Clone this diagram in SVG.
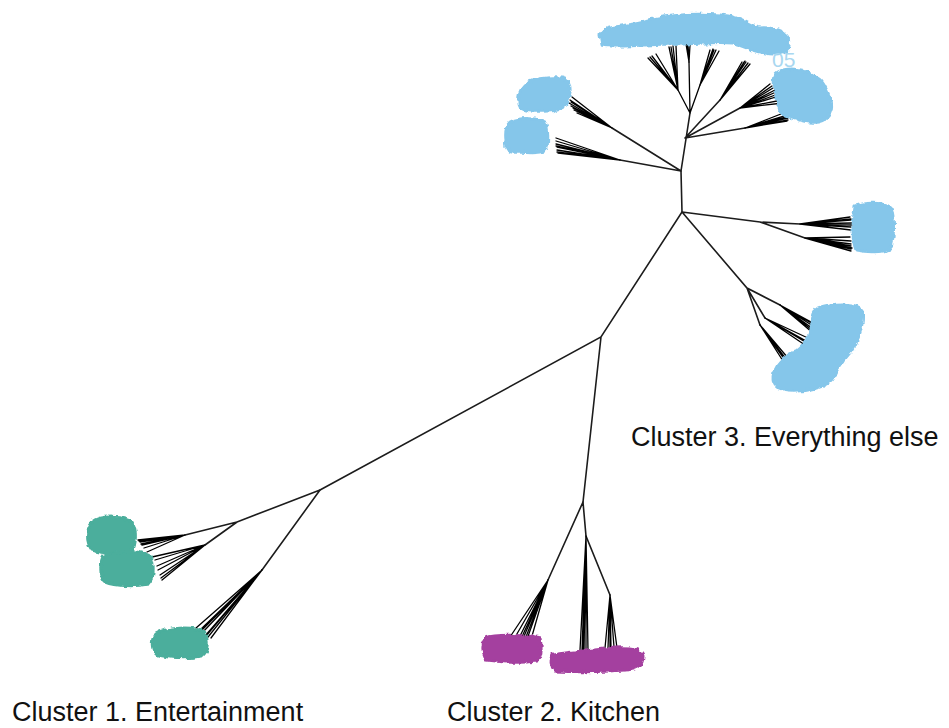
<svg xmlns="http://www.w3.org/2000/svg" width="949" height="728" viewBox="0 0 949 728">
<defs>
<filter id="rough" x="-10%" y="-20%" width="120%" height="140%">
<feTurbulence type="fractalNoise" baseFrequency="0.18" numOctaves="2" seed="3" result="n"/>
<feDisplacementMap in="SourceGraphic" in2="n" scale="5" xChannelSelector="R" yChannelSelector="G"/>
</filter>
</defs>
<style>
.e{stroke:#1c1c1c;stroke-width:1.6;fill:none;stroke-linecap:round}
.f{stroke:#000;stroke-width:1.3;fill:none;stroke-linecap:round}
.b{fill:#85C6EA;stroke:#85C6EA;stroke-width:3;stroke-linejoin:round;filter:url(#rough)}
.t{fill:#4BAE9C;stroke:#4BAE9C;stroke-width:3;stroke-linejoin:round;filter:url(#rough)}
.m{fill:#A4409F;stroke:#A4409F;stroke-width:3;stroke-linejoin:round;filter:url(#rough)}
.lbl{font-family:"Liberation Sans",Arial,sans-serif;font-size:27px;fill:#111}
</style>
<rect width="949" height="728" fill="#fff"/>
<g id="connectors">
<path class="e" d="M681,171L682,212L601,337L320,490M601,337L583,502"/>
<path class="e" d="M681,171L690,113M681,171L612,128M681,171L620,160M685,138L720,100M685,138L740,108M685,138L745,128"/>
<path class="e" d="M682,212L760,222L800,224M760,222L805,238M682,212L747,288L780,305M747,288L765,318M747,288L760,325"/>
<path class="e" d="M320,490L237,522L185,535M237,522L205,545M320,490L262,570"/>
<path class="e" d="M583,502L548,580M583,502L586,536L610,595"/>
<path class="f" d="M690,113L678,90M690,113L689,62M690,113L700,85"/>
<path class="f" d="M612,128L572,97M612,128L570,100M612,128L569,103M612,128L571,106M612,128L574,110M612,128L577,113M612,128L573,108M612,128L571,102"/>
<path class="f" d="M620,160L556,138M620,160L556,141M620,160L556,144M620,160L557,147M620,160L557,150M620,160L558,153M620,160L557,152M620,160L556,146"/>
<path class="f" d="M678,90L648,58M678,90L650,57M678,90L656,54M678,90L669,47M678,90L673,46M678,90L676,46M678,90L652,56M678,90L671,47"/>
<path class="f" d="M689,62L686,44M689,62L688,44M689,62L690,45M689,62L687,44"/>
<path class="f" d="M700,85L710,50M700,85L713,49M700,85L716,50M700,85L719,51M700,85L714,50"/>
<path class="f" d="M720,100L742,62M720,100L745,61M720,100L748,63M720,100L750,64M720,100L746,62M720,100L744,62"/>
<path class="f" d="M740,108L770,84M740,108L773,88M740,108L776,92M740,108L779,96M740,108L782,100M740,108L783,103M740,108L775,90M740,108L778,94M740,108L772,86"/>
<path class="f" d="M745,128L786,112M745,128L787,115M745,128L788,118M745,128L787,121M745,128L786,117M745,128L788,120"/>
<path class="f" d="M800,224L850,217M800,224L851,220M800,224L852,223M800,224L851,227M800,224L851,230M800,224L852,225M800,224L851,219"/>
<path class="f" d="M805,238L850,237M805,238L851,241M805,238L851,244M805,238L852,248M805,238L851,251M805,238L851,246M805,238L851,249"/>
<path class="f" d="M780,305L813,323M780,305L813,326M780,305L812,330M780,305L813,333M780,305L812,328M780,305L813,324"/>
<path class="f" d="M765,318L805,345M765,318L808,342M765,318L810,339M765,318L807,343"/>
<path class="f" d="M760,325L783,361M760,325L786,359M760,325L788,358M760,325L785,360"/>
<path class="f" d="M185,535L138,540M185,535L140,542M185,535L142,545M185,535L144,548M185,535L147,552M185,535L141,544M185,535L139,541"/>
<path class="f" d="M205,545L152,557M205,545L155,560M205,545L158,570M205,545L160,575M205,545L162,580M205,545L157,566M205,545L161,578"/>
<path class="f" d="M262,570L196,628M262,570L199,631M262,570L202,633M262,570L205,636M262,570L208,637M262,570L211,638M262,570L200,632M262,570L206,636"/>
<path class="f" d="M548,580L510,637M548,580L514,639M548,580L518,640M548,580L522,641M548,580L526,642M548,580L530,643M548,580L520,641M548,580L524,642"/>
<path class="f" d="M586,536L580,650M586,536L582,651M586,536L584,652M586,536L586,652M586,536L588,651M586,536L583,651"/>
<path class="f" d="M610,595L605,648M610,595L608,648M610,595L611,648M610,595L614,647M610,595L617,648M610,595L610,648"/>
</g>
<g id="cluster3-top"><path class="b" d="M600,34C603,27 625,26 640,23C655,16 690,13 720,15C740,16 748,25 760,28C775,27 792,33 788,44C790,52 778,56 765,53C752,52 744,46 733,43C712,41 690,45 665,44C640,45 615,48 602,45Z"/></g>
<g id="cluster3-topright"><path class="b" d="M778,72C790,66 805,70 812,75C822,78 826,88 830,98C834,108 830,120 818,122C805,124 795,118 786,116C778,112 776,100 775,90C772,82 772,76 778,72Z"/><text x="772" y="67" font-family="Liberation Sans,Arial,sans-serif" font-size="21" fill="#A9D7F0">05</text></g>
<g id="cluster3-left1"><path class="b" d="M524,86C530,78 550,77 562,78C572,80 571,92 568,100C566,108 555,112 540,111C528,112 518,110 519,102C518,96 520,90 524,86Z"/></g>
<g id="cluster3-left2"><path class="b" d="M510,122C520,117 538,118 545,122C549,130 548,140 547,148C545,154 530,153 518,152C508,153 504,148 506,140C505,132 506,126 510,122Z"/></g>
<g id="cluster3-right"><path class="b" d="M855,206C865,202 885,202 891,208C895,220 894,240 890,249C882,253 865,252 856,250C852,240 853,220 855,206Z"/></g>
<g id="cluster3-lowerright"><path class="b" d="M818,308C835,302 858,303 862,310C864,322 860,338 852,350C846,358 838,366 834,376C828,388 806,392 788,391C775,390 771,382 774,372C778,362 786,356 794,352C804,346 810,336 812,324C813,314 814,310 818,308Z"/></g>
<g id="cluster1-a"><path class="t" d="M92,522C100,515 125,516 132,522C137,530 136,545 132,551C120,554 100,553 92,550C86,542 86,530 92,522Z"/></g>
<g id="cluster1-b"><path class="t" d="M104,556C115,550 140,550 150,556C155,565 154,578 148,584C135,587 115,586 105,582C99,575 100,562 104,556Z"/></g>
<g id="cluster1-c"><path class="t" d="M156,634C165,627 195,626 204,632C209,640 208,652 202,656C188,659 168,658 156,654C151,648 151,640 156,634Z"/></g>
<g id="cluster2-a"><path class="m" d="M486,638C495,634 530,635 540,638C542,648 541,657 537,661C520,663 500,662 486,660C482,652 482,644 486,638Z"/></g>
<g id="cluster2-b"><path class="m" d="M553,655C570,651 600,650 615,648C630,647 642,648 643,656C643,665 638,670 625,670C600,672 575,672 555,671C550,665 550,660 553,655Z"/></g>
<g id="labels">
<text class="lbl" x="631" y="446">Cluster 3. Everything else</text>
<text class="lbl" x="12" y="721">Cluster 1. Entertainment</text>
<text class="lbl" x="447" y="721">Cluster 2. Kitchen</text>
</g>
</svg>
